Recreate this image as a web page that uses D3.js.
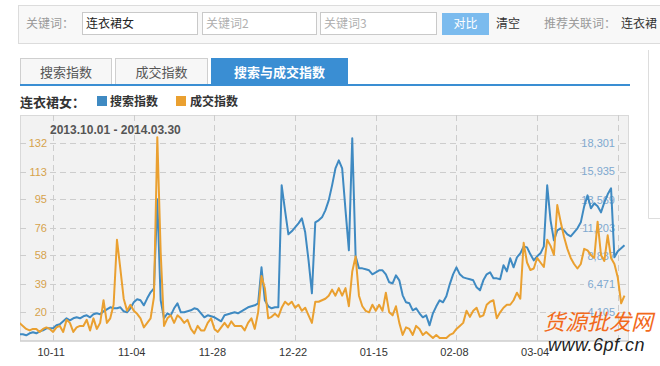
<!DOCTYPE html>
<html><head><meta charset="utf-8">
<script src="https://cdn.jsdelivr.net/npm/d3@7"></script>
<style>
body{margin:0;background:#fff;}
svg{display:block;font-family:"Liberation Sans",Arial,"Noto Sans CJK SC",sans-serif;}
</style></head><body>
<svg id="c" width="660" height="366"></svg>
<script>
// ---------- data ----------
const startDate = "2013-10-01";
const endDate = "2014-03-30";
const dateRangeLabel = "2013.10.01 - 2014.03.30";
const keyword = "连衣裙女";
const seriesNames = ["搜索指数", "成交指数"];
const tabNames = ["搜索指数", "成交指数", "搜索与成交指数"];

// 搜索指数 (right axis), one value per day
const searchIndex = [
2259,2259,2175,2343,2427,2343,2511,2595,2763,2763,
2763,3014,3098,3350,3602,3434,3602,3686,3602,3769,
3853,3686,3937,4021,3937,4189,4357,4524,4441,4441,
4524,4189,4105,4441,4944,5196,5112,4692,5280,5783,
6119,13587,5112,3602,4021,3853,4441,4860,4105,4105,
4189,4273,4441,4357,4021,3686,3853,3769,3686,3518,
3350,3853,3937,4021,4105,4021,4189,4357,4524,4608,
4692,4860,7880,5112,4608,4441,4524,4524,14762,12664,
10650,10901,11237,11573,11992,10818,8468,5699,11657,11825,
12076,12664,13503,14762,16188,16859,16188,12664,9307,18705,
8800,7800,7796,7713,7629,7293,7461,7629,7629,7293,
6622,6538,7209,6790,5531,4944,4860,4273,4441,4021,
3686,3853,3014,4021,4608,5112,4944,5447,6454,7293,
7880,7293,7041,6957,6874,6790,6202,5951,6790,7293,
7461,6957,6957,6874,8048,7545,8636,7880,8720,9055,
9643,9559,8971,8468,8804,9055,9643,14762,11825,10146,
10985,11153,10985,10650,10482,10818,11153,11657,13000,13923,
12832,13251,13000,12496,13335,14007,14510,8720,9223,9475,9727
];
// 成交指数 (left axis), one value per day
const dealIndex = [
13,11,9,8,9,9,7,9,10,9,
7,10,11,7,15,13,7,10,11,11,
15,8,16,9,13,28,13,16,25,68,
49,29,21,25,21,19,16,10,13,16,
30,136,60,11,16,18,13,18,16,13,
15,9,6,11,8,8,13,16,9,7,
10,13,10,14,11,11,11,8,13,16,
9,20,44,36,16,17,19,17,23,27,
25,27,23,25,21,23,18,13,27,27,
28,29,31,35,31,36,31,36,24,47,
57,31,24,21,20,25,21,25,21,33,
20,18,24,13,5,10,9,5,11,9,
5,7,5,3,5,3,3,3,5,6,
9,11,13,21,17,21,23,17,18,25,
27,28,16,20,23,25,25,28,33,29,
66,53,48,49,56,53,50,68,64,58,
91,80,70,62,56,52,49,52,62,61,
58,56,80,58,54,71,56,52,43,26,31
];

const xTickDates = ["2013-10-11","2013-11-04","2013-11-28","2013-12-22","2014-01-15","2014-02-08","2014-03-04","2014-03-28"];
const xTickLabels = ["10-11","11-04","11-28","12-22","01-15","02-08","03-04",""];
const leftTicks = [20,39,58,76,95,113,132];
const leftDomain = [1.33,150.67];
const rightTicks = [4105,6471,8837,11203,13569,15935,18301];
const rightDomain = [1739,20667];

// ---------- drawing ----------
const svg = d3.select("#c");
const BLUE = "#3f8ac2", ORANGE = "#eaa030", TABBLUE = "#3a8ed3";
const cjk = '"Noto Sans CJK SC","Liberation Sans",sans-serif';

// top search bar
svg.append("rect").attr("x",18.5).attr("y",5.5).attr("width",660).attr("height",38)
  .attr("fill","#f8f8f8").attr("stroke","#dcdcdc");
const t = (x,y,s,fill,size,extra)=>{const e=svg.append("text").attr("x",x).attr("y",y).text(s)
  .attr("fill",fill).style("font-size",size+"px").style("font-family",cjk);
  if(extra) extra(e); return e;};
t(26,28,"关键词：","#9a9a9a",12);
[[82,115,keyword,"#222"],[202,114,"关键词2","#b0b0b0"],[320,116,"关键词3","#b0b0b0"]].forEach(([x,w,s,c])=>{
  svg.append("rect").attr("x",x+0.5).attr("y",12.5).attr("width",w).attr("height",22)
    .attr("fill","#fff").attr("stroke","#c9c9c9");
  t(x+4,28,s,c,12);
});
svg.append("rect").attr("x",442).attr("y",13).attr("width",47).attr("height",22).attr("fill","#7bbbee");
t(465.5,28,"对比","#fff",12,e=>e.attr("text-anchor","middle"));
t(496,28,"清空","#333",12);
t(544,28,"推荐关联词：","#9a9a9a",12);
t(621,28,"连衣裙","#333",12);

// tabs
[[20,91],[115,92]].forEach(([x,w],i)=>{
  svg.append("rect").attr("x",x+0.5).attr("y",58.5).attr("width",w).attr("height",27)
    .attr("fill","#f7f7f7").attr("stroke","#cfcfcf");
  t(x+w/2+0.5,77,tabNames[i],"#555",13,e=>e.attr("text-anchor","middle"));
});
svg.append("rect").attr("x",211).attr("y",58).attr("width",137).attr("height",28).attr("fill",TABBLUE);
t(279.5,77,tabNames[2],"#fff",13,e=>e.attr("text-anchor","middle").style("font-weight","bold"));
svg.append("rect").attr("x",20).attr("y",84).attr("width",610).attr("height",2).attr("fill",TABBLUE);

// right side panel border
svg.append("path").attr("d","M648.5,50V218.5H660").attr("fill","none").attr("stroke","#dddddd");

// legend
t(20,107,keyword+"：","#333",13,e=>e.style("font-weight","bold"));
svg.append("rect").attr("x",97).attr("y",96).attr("width",10).attr("height",10).attr("fill",BLUE);
t(110,106,seriesNames[0],"#333",12,e=>e.style("font-weight","bold"));
svg.append("rect").attr("x",176).attr("y",96).attr("width",10).attr("height",10).attr("fill",ORANGE);
t(190,106,seriesNames[1],"#333",12,e=>e.style("font-weight","bold"));

// chart frame
const PL=20, PR=628, PT=115, PB=340.5;
const BG="#f2f2f2";
svg.append("rect").attr("x",PL+0.5).attr("y",PT+0.5).attr("width",PR-PL).attr("height",PB-PT)
  .attr("fill",BG).attr("stroke","#d9d9d9");

const parse = d3.utcParse("%Y-%m-%d");
const x = d3.scaleUtc().domain([parse(startDate),parse(endDate)]).range([19.5,624.5]);
const yL = d3.scaleLinear().domain(leftDomain).range([PB,PT]);
const yR = d3.scaleLinear().domain(rightDomain).range([PB,PT]);
const days = searchIndex.map((_,i)=>d3.utcDay.offset(parse(startDate),i));

// gridlines
const grid = svg.append("g").attr("stroke","#cdcdcd").attr("stroke-dasharray","6,4");
leftTicks.forEach(v=>grid.append("line").attr("x1",PL).attr("x2",PR)
  .attr("y1",Math.round(yL(v))+0.5).attr("y2",Math.round(yL(v))+0.5));
xTickDates.forEach(d=>grid.append("line").attr("y1",PT).attr("y2",PB)
  .attr("x1",Math.round(x(parse(d)))+0.5).attr("x2",Math.round(x(parse(d)))+0.5));
svg.append("line").attr("x1",PL).attr("x2",PR).attr("y1",PB+0.5).attr("y2",PB+0.5).attr("stroke","#c8c8c8");

// axis labels (left / right)
leftTicks.forEach(v=>{
  const y=Math.round(yL(v));
  svg.append("rect").attr("x",29).attr("y",y-6).attr("width",20).attr("height",12).attr("fill",BG);
  svg.append("text").attr("x",47).attr("y",y+4).attr("text-anchor","end").text(v)
    .attr("fill","#d6a24c").style("font-size","11px");
});
rightTicks.forEach(v=>{
  const y=Math.round(yR(v));
  svg.append("rect").attr("x",584).attr("y",y-6).attr("width",32).attr("height",12).attr("fill",BG);
  svg.append("text").attr("x",615).attr("y",y+4).attr("text-anchor","end").text(d3.format(",")(v))
    .attr("fill","#7ea8cf").style("font-size","11px");
});

// x labels
xTickDates.forEach((d,i)=>{
  svg.append("text").attr("x",x(parse(d))-2).attr("y",356).attr("text-anchor","middle")
    .text(xTickLabels[i]).attr("fill","#333").style("font-size","11px");
});

// date range
svg.append("text").attr("x",50).attr("y",134).text(dateRangeLabel)
  .attr("fill","#555").style("font-size","12px").style("font-weight","bold");

// lines
svg.append("clipPath").attr("id","clip").append("rect").attr("x",PL).attr("y",PT).attr("width",PR-PL).attr("height",PB-PT);
const lineB = d3.line().x((d,i)=>x(days[i])).y(d=>yR(d));
const lineO = d3.line().x((d,i)=>x(days[i])).y(d=>yL(d));
svg.append("path").datum(searchIndex).attr("d",lineB).attr("fill","none").attr("stroke",BLUE)
  .attr("stroke-width",2).attr("stroke-linejoin","round").attr("clip-path","url(#clip)");
svg.append("path").datum(dealIndex).attr("d",lineO).attr("fill","none").attr("stroke",ORANGE)
  .attr("stroke-width",2).attr("stroke-linejoin","round").attr("clip-path","url(#clip)");

// watermark
t(543,330,"货源批发网","#f26a1c",22,e=>e.style("font-style","italic"));
svg.append("text").attr("x",548).attr("y",351).text("www.6pf.cn").attr("fill","#222")
  .style("font-size","18px").style("font-style","italic").style("letter-spacing","0.5px");
</script>
</body></html>
